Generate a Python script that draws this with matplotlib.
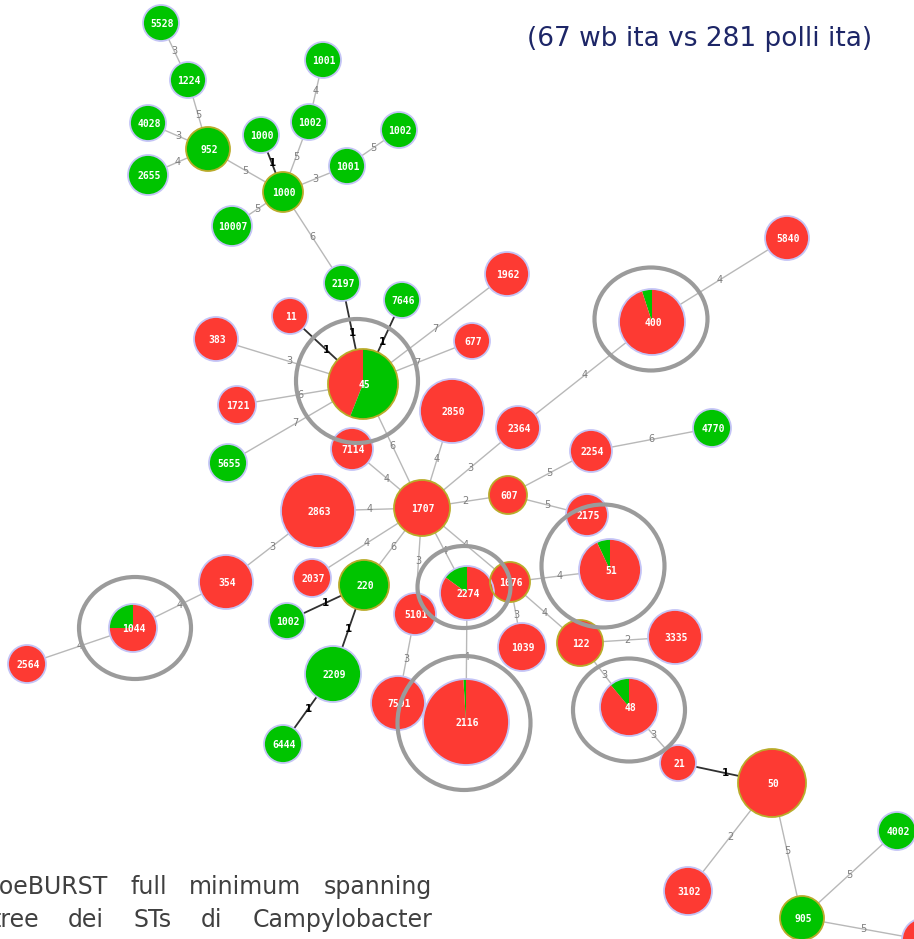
import matplotlib.pyplot as plt
from matplotlib.patches import Circle, Wedge, Ellipse

# goeBURST full MST of Campylobacter STs, wild birds (wb) vs chickens (polli)
st_keys = ["5528", "1224", "4028", "2655", "952", "1000a", "1002a", "1001a",
           "1002b", "1001b", "1000b", "10007", "2197", "7646", "11", "383",
           "1962", "677", "45", "1721", "5655", "2850", "2364", "7114",
           "5840", "400", "4770", "2254", "607", "1707", "2175", "2863",
           "2037", "220", "2274", "1676", "5101", "51", "1039", "122",
           "3335", "48", "2116", "7591", "21", "50", "3102", "905", "4002",
           "edge", "354", "1044", "2564", "1002c", "2209", "6444"]
st_labels = ["5528", "1224", "4028", "2655", "952", "1000", "1002", "1001",
             "1002", "1001", "1000", "10007", "2197", "7646", "11", "383",
             "1962", "677", "45", "1721", "5655", "2850", "2364", "7114",
             "5840", "400", "4770", "2254", "607", "1707", "2175", "2863",
             "2037", "220", "2274", "1676", "5101", "51", "1039", "122",
             "3335", "48", "2116", "7591", "21", "50", "3102", "905", "4002",
             "", "354", "1044", "2564", "1002", "2209", "6444"]
st_x = [161, 188, 148, 148, 208, 261, 309, 323, 399, 347, 283, 232, 342, 402,
        290, 216, 507, 472, 363, 237, 228, 452, 518, 352, 787, 652, 712, 591,
        508, 422, 587, 318, 312, 364, 467, 510, 415, 610, 522, 580, 675, 629,
        466, 398, 678, 772, 688, 802, 897, 924, 226, 133, 27, 287, 333, 283]
st_y = [23, 80, 123, 175, 149, 135, 122, 60, 130, 166, 192, 226, 283, 300,
        316, 339, 274, 341, 384, 405, 463, 411, 428, 449, 238, 322, 428, 451,
        495, 508, 515, 511, 578, 585, 593, 582, 614, 570, 647, 643, 637, 707,
        722, 703, 763, 783, 891, 918, 831, 940, 582, 628, 664, 621, 674, 744]
# number of isolates sets the node size
st_size = [18, 18, 18, 20, 22, 18, 18, 18, 18, 18, 20, 20, 18, 18,
           18, 22, 22, 18, 35, 19, 19, 32, 22, 21, 22, 33, 19, 21,
           19, 28, 21, 37, 19, 25, 27, 20, 21, 31, 24, 23, 27, 29,
           43, 27, 18, 34, 24, 22, 19, 22, 27, 24, 19, 18, 28, 19]
# share of wild-bird isolates in each ST (rest are chicken)
st_wb = [1, 1, 1, 1, 1, 1, 1, 1, 1, 1, 1, 1, 1, 1,
         0, 0, 0, 0, 0.56, 0, 1, 0, 0, 0, 0, 0.05, 1, 0,
         0, 0, 0, 0, 0, 1, 0.15, 0, 0, 0.07, 0, 0, 0, 0.11,
         0.01, 0, 0, 0, 0, 1, 1, 0, 0, 0.25, 0, 1, 1, 1]
founders = ["952", "1000b", "45", "1707", "607", "220", "1676", "122", "50", "905"]

edge_a = ["5528", "1224", "4028", "2655", "952", "1000a", "1002a", "1001a",
          "1001b", "1002b", "10007", "1000b", "2197", "7646", "11", "383",
          "1721", "5655", "1962", "677", "45", "2850", "2364", "7114", "2364",
          "400", "1707", "607", "2254", "607", "2863", "354", "1044", "2564",
          "2037", "220", "1002c", "220", "2209", "5101", "2274", "1676",
          "1676", "1676", "1676", "122", "122", "48", "21", "50", "50",
          "905", "905", "5101", "2274"]
edge_b = ["1224", "952", "952", "952", "1000b", "1000b", "1000b", "1002a",
          "1000b", "1001b", "1000b", "2197", "45", "45", "45", "45",
          "45", "45", "45", "45", "1707", "1707", "1707", "1707", "400",
          "5840", "607", "2254", "4770", "2175", "1707", "2863", "354", "1044",
          "1707", "1707", "220", "2209", "6444", "1707", "1707", "1707",
          "51", "1039", "122", "3335", "48", "21", "50", "3102", "905",
          "4002", "edge", "7591", "2116"]
edge_d = [3, 5, 3, 4, 5, 1, 5, 4, 3, 5, 5, 6, 1, 1, 1, 3, 6, 7, 7, 7, 6, 4, 3, 4,
          4, 4, 2, 5, 6, 5, 4, 3, 4, 4, 4, 6, 1, 1, 1, 3, 4, 4, 4, 3, 4, 2, 3, 3,
          1, 2, 5, 5, 5, 3, 4]

# highlighted STs shared by both hosts
ring_x = [357, 651, 464, 603, 135, 629, 464]
ring_y = [381, 319, 587, 566, 628, 710, 723]
ring_w = [122, 113, 93, 123, 112, 112, 133]
ring_h = [124, 103, 82, 123, 102, 103, 134]

RED = "#fd3a33"
GREEN = "#00c400"

fig = plt.figure(figsize=(9.14, 9.39), dpi=100)
ax = fig.add_axes([0, 0, 1, 1])
ax.set_xlim(0, 914)
ax.set_ylim(939, 0)
ax.set_aspect("equal")
ax.axis("off")

idx = {k: i for i, k in enumerate(st_keys)}

for a, b, d in zip(edge_a, edge_b, edge_d):
    i, j = idx[a], idx[b]
    xs = [st_x[i], st_x[j]]
    ys = [st_y[i], st_y[j]]
    mx, my = sum(xs) / 2, sum(ys) / 2
    if d == 1:
        ax.plot(xs, ys, color="#303030", lw=1.3, zorder=1)
        ax.text(mx, my, str(d), color="black", fontsize=7.5, fontweight="bold",
                ha="center", va="center", zorder=2)
    else:
        ax.plot(xs, ys, color="#b8b8b8", lw=1.0, zorder=1)
        ax.text(mx, my, str(d), color="#7d7d7d", fontsize=7,
                ha="center", va="center", zorder=2)

for k, lab, x, y, r, g in zip(st_keys, st_labels, st_x, st_y, st_size, st_wb):
    minor = min(g, 1 - g)
    if minor == 0:
        ax.add_patch(Circle((x, y), r, color=GREEN if g > 0.5 else RED, lw=0, zorder=3))
    else:
        # smaller slice first, counter-clockwise from the top (y axis is flipped)
        a = minor * 360
        c_min, c_maj = (GREEN, RED) if g < 0.5 else (RED, GREEN)
        ax.add_patch(Wedge((x, y), r, 270 - a, 270, color=c_min, lw=0, zorder=3))
        ax.add_patch(Wedge((x, y), r, 270, 270 - a + 360, color=c_maj, lw=0, zorder=3))
    outline = "#b9ab2a" if k in founders else "#c4c4f6"
    rim = Circle((x, y), r, fill=False, ec=outline, lw=1.3, zorder=3.5)
    ax.add_patch(rim)
    t = ax.text(x + 1, y + 1, lab, color="white", fontsize=7, fontweight="bold",
                family="DejaVu Sans Mono", ha="center", va="center", zorder=4)
    t.set_clip_path(rim)

for x, y, w, h in zip(ring_x, ring_y, ring_w, ring_h):
    ax.add_patch(Ellipse((x, y), w, h, fill=False, ec="#9b9b9b", lw=3.0, zorder=5))

ax.text(700, 39, "(67 wb ita vs 281 polli ita)", color="#1d2667", fontsize=19,
        ha="center", va="center")


def justify(words, x0, x1, y):
    arts = [ax.text(0, y, w, color="#404040", fontsize=17, ha="left",
                    va="baseline") for w in words]
    rend = fig.canvas.get_renderer()
    widths = [t.get_window_extent(rend).width for t in arts]
    gap = (x1 - x0 - sum(widths)) / (len(words) - 1)
    pos = x0
    for t, w in zip(arts, widths):
        t.set_x(pos)
        pos += w + gap


justify(["goeBURST", "full", "minimum", "spanning"], -15, 432, 894)
justify(["tree", "dei", "STs", "di", "Campylobacter"], -9, 432, 927)

fig.savefig("out.png", dpi=100)
